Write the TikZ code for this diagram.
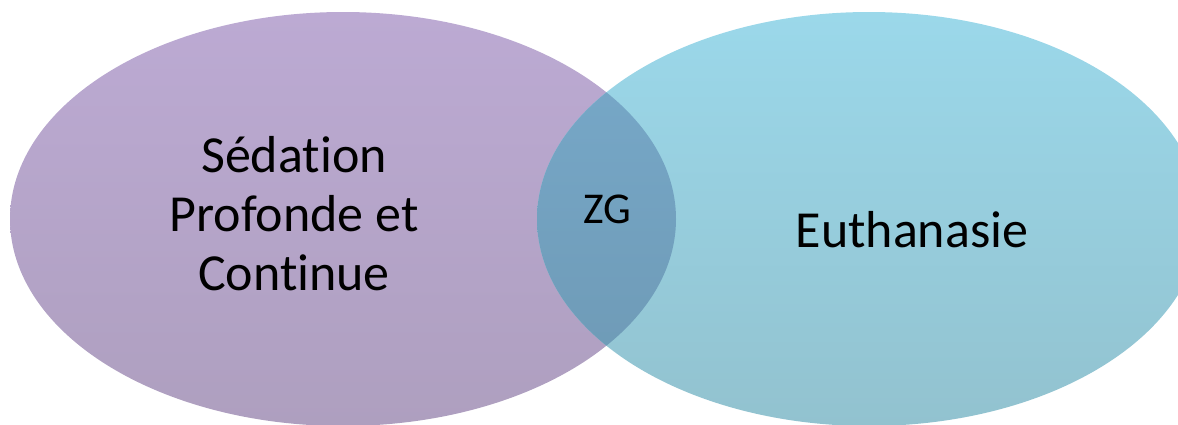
\documentclass[tikz,border=0pt]{standalone}
\usepackage{fontspec}
\setmainfont[Ligatures={NoCommon}]{Carlito}
\definecolor{purpTop}{HTML}{BCAAD3}
\definecolor{purpBot}{HTML}{AE9FBF}
\definecolor{blueTop}{HTML}{9BD8EA}
\definecolor{blueBot}{HTML}{92C2CF}
\definecolor{ovTop}{HTML}{78AACB}
\definecolor{ovBot}{HTML}{6D98B3}
\tikzset{
  bigtext/.style={font=\fontsize{52}{59}\selectfont, text=black, inner sep=0pt, align=center},
  smalltext/.style={font=\fontsize{44}{50}\selectfont, text=black, inner sep=0pt},
}
\begin{document}
\begin{tikzpicture}[x=1pt,y=-1pt]
\useasboundingbox (0,0) rectangle (1178,424);
\begin{scope}
\clip (0,0) rectangle (1178,424);
\shade[top color=purpTop, bottom color=purpBot] (343,219) ellipse [x radius=333, y radius=207];
\shade[top color=blueTop, bottom color=blueBot] (869,219) ellipse [x radius=332, y radius=207];
\begin{scope}
\clip (343,219) ellipse [x radius=333, y radius=207];
\shade[top color=ovTop, bottom color=ovBot] (869,219) ellipse [x radius=332, y radius=207];
\end{scope}
\end{scope}
\node[bigtext] (sedation) at (294,214) {Sédation\\Profonde et\\Continue};
\node[bigtext, anchor=base] (euth) at (912,247) {Euthanasie};
\node[smalltext, anchor=base] (zg) at (607,223) {ZG};
\end{tikzpicture}
\end{document}
